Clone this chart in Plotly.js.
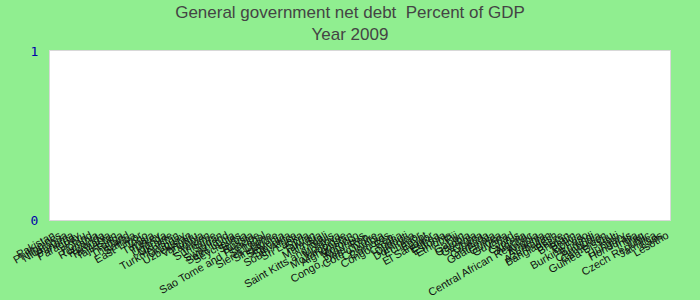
<!DOCTYPE html>
<html>
<head>
<meta charset="utf-8">
<script src="https://cdn.plot.ly/plotly-3.0.1.min.js"></script>
<style>
html, body { margin: 0; padding: 0; background: #90EE90; }
#chart { width: 700px; height: 300px; outline: 1px solid #00EE00; outline-offset: -1px; }
</style>
</head>
<body>
<div id="chart"></div>
<script>
// Countries (x-axis categories)
const countries = [
  "Pakistan", "Philippines", "Nicaragua", "Panama", "Paraguay", "Peru", "Poland", "Romania",
  "Rwanda", "Tanzania", "Tajikistan", "Tonga", "Thailand", "Samoa", "East Timor", "Togo",
  "Tunisia", "Turkey", "Uganda", "Ukraine", "Turkmenistan", "Uruguay", "Uzbekistan", "Vanuatu",
  "Zambia", "Yemen", "Suriname", "Sudan", "Swaziland", "Saint Lucia", "Seychelles", "Serbia",
  "Russia", "Sao Tome and Principe", "Senegal", "Sierra Leone", "Singapore", "Slovenia", "Slovakia",
  "South Africa", "Sri Lanka", "Syria", "Taiwan", "Malaysia", "Mali", "Saint Kitts and Nevis",
  "Moldova", "Mozambique", "Afghanistan", "Morocco", "Mauritius", "Congo, Dem. Rep.",
  "Cote d'Ivoire", "Colombia", "Comoros", "Congo, Rep.", "Croatia", "Djibouti", "Dominica",
  "Ecuador", "Egypt", "El Salvador", "Eritrea", "Estonia", "Ethiopia", "Fiji", "Gabon", "Gambia",
  "Georgia", "Ghana", "Grenada", "Guatemala", "Guinea", "Guyana", "Chad", "Cyprus", "Algeria",
  "Central African Republic", "Angola", "Armenia", "Azerbaijan", "Bangladesh", "Belize", "Bhutan",
  "Benin", "Bolivia", "Burkina Faso", "Burundi", "Cambodia", "Cameroon", "Guinea-Bissau", "Haiti",
  "Hungary", "Honduras", "India", "Iraq", "Czech Republic", "Jamaica", "Laos", "Lesotho"
];
// Net debt, % of GDP, year 2009 (no values shown in the chart)
const netDebt2009 = [
  null, null, null, null, null, null, null, null, null, null,
  null, null, null, null, null, null, null, null, null, null,
  null, null, null, null, null, null, null, null, null, null,
  null, null, null, null, null, null, null, null, null, null,
  null, null, null, null, null, null, null, null, null, null,
  null, null, null, null, null, null, null, null, null, null,
  null, null, null, null, null, null, null, null, null, null,
  null, null, null, null, null, null, null, null, null, null,
  null, null, null, null, null, null, null, null, null, null,
  null, null, null, null, null, null, null, null, null, null
];
const yTicks = [0, 1];

const data = [{
  type: "bar",
  x: countries,
  y: netDebt2009,
  marker: { color: "#1f77b4" },
  hoverinfo: "x+y"
}];

const layout = {
  width: 700,
  height: 300,
  paper_bgcolor: "#90EE90",
  plot_bgcolor: "#FFFFFF",
  margin: { l: 50, r: 30, t: 51, b: 80, pad: 0 },
  title: {
    text: "General government net debt  Percent of GDP<br>Year 2009",
    font: { family: "Arial, Liberation Sans, sans-serif", size: 17, color: "#444" },
    x: 0.5, xanchor: "center",
    y: 0.94, yanchor: "top"
  },
  showlegend: false,
  xaxis: {
    type: "category",
    tickmode: "linear",
    dtick: 1,
    tickangle: -30,
    tickfont: { family: "Arial, Liberation Sans, sans-serif", size: 11, color: "#111" },
    showgrid: false,
    showline: true,
    mirror: true,
    linecolor: "#d8d8d8",
    ticks: "",
    ticklabelstandoff: 4,
    automargin: false
  },
  yaxis: {
    range: [0, 1],
    tickmode: "array",
    tickvals: yTicks,
    ticktext: yTicks.map(String),
    tickfont: { family: "DejaVu Sans Mono, monospace", size: 13, color: "#0000AA" },
    showgrid: false,
    zeroline: false,
    showline: true,
    mirror: true,
    linecolor: "#d8d8d8",
    ticks: "",
    ticklabelstandoff: 8,
    automargin: false
  }
};

Plotly.newPlot("chart", data, layout, { displayModeBar: false, staticPlot: true });
</script>
</body>
</html>
